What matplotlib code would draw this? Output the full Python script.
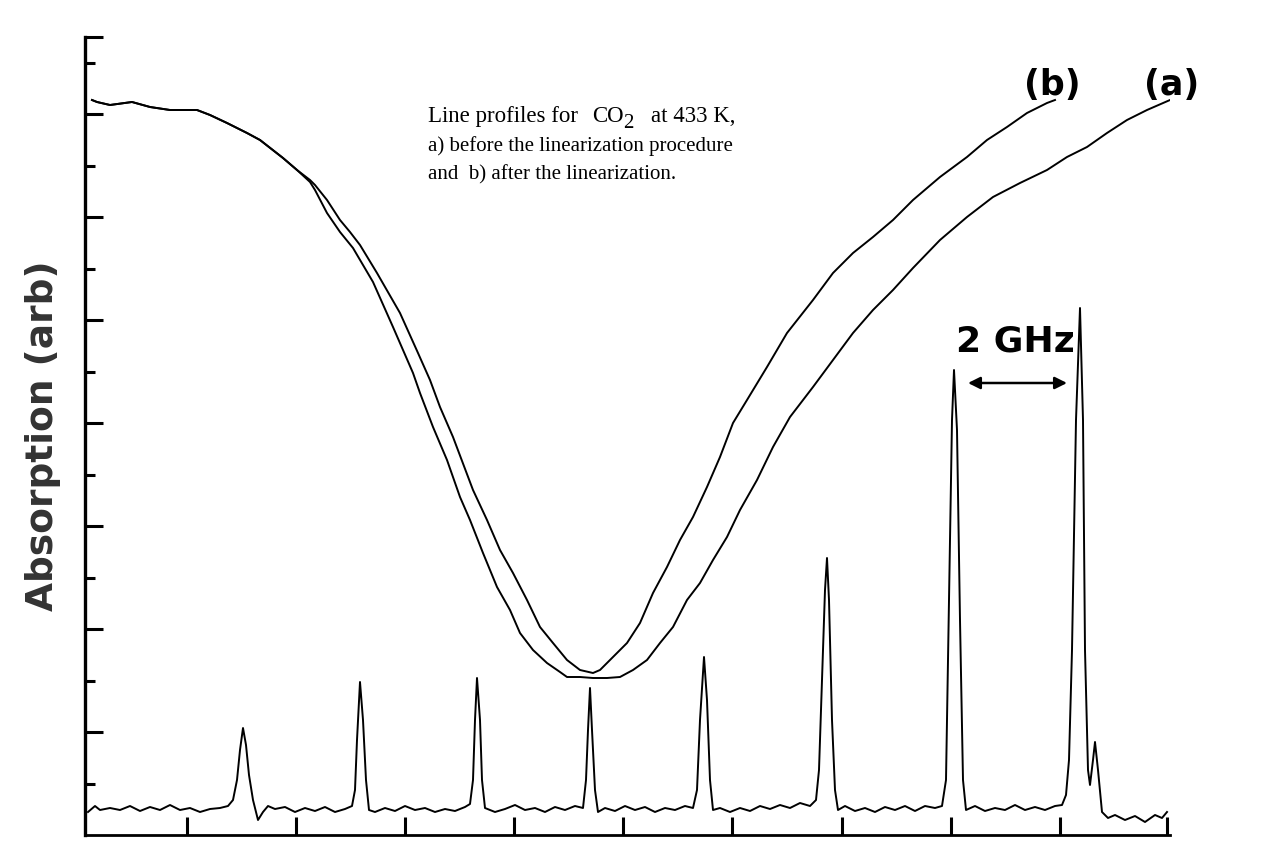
import matplotlib.pyplot as plt

# Perfiles de linea CO2 a 433 K, canal de barrido vs absorcion (u. arb.)
chan_a = [7, 12, 25, 47, 65, 85, 112, 125, 142, 162, 175, 198, 212, 225, 230, 242, 255, 268, 288, 308,
          328, 335, 348, 362, 375, 385, 398, 412, 425, 435, 448, 462, 475, 482, 495, 508, 522, 535, 548, 562,
          575, 588, 602, 615, 628, 642, 655, 672, 688, 705, 728, 748, 768, 788, 808, 828, 855, 882, 908, 935,
          962, 982, 1002, 1022, 1042, 1062, 1085]
abs_a = [735, 733, 730, 733, 728, 725, 725, 720, 712, 702, 695, 677, 665, 653, 645, 622, 603, 587, 553, 508,
         462, 442, 408, 375, 338, 315, 282, 248, 225, 202, 185, 172, 163, 158, 158, 157, 157, 158, 165, 175,
         192, 208, 235, 252, 275, 298, 325, 355, 388, 418, 448, 475, 502, 525, 545, 567, 595, 618, 638, 652,
         665, 678, 688, 702, 715, 725, 735]

chan_b = [7, 12, 25, 47, 65, 85, 112, 125, 142, 162, 175, 198, 212, 225, 230, 242, 255, 265, 275, 292,
          315, 333, 345, 355, 368, 388, 402, 415, 428, 442, 455, 468, 482, 495, 508, 515, 528, 542, 555, 568,
          582, 595, 608, 622, 635, 648, 662, 682, 702, 728, 748, 768, 788, 808, 828, 855, 882, 902, 922, 942,
          962, 970]
abs_b = [735, 733, 730, 733, 728, 725, 725, 720, 712, 702, 695, 677, 665, 655, 650, 635, 615, 603, 590, 562,
         522, 482, 455, 428, 398, 345, 315, 285, 262, 235, 208, 192, 175, 165, 162, 165, 178, 192, 212, 242,
         268, 295, 318, 348, 378, 412, 435, 468, 502, 535, 562, 582, 598, 615, 635, 658, 678, 695, 708, 722,
         732, 735]

# Senal del etalon (picos cada 2 GHz)
chan_fp = [3, 10, 15, 25, 35, 45, 55, 65, 75, 85,
           95, 105, 115, 125, 135, 143, 148, 152, 155, 158,
           161, 164, 168, 173, 178, 183, 190, 200, 210, 220,
           230, 240, 250, 260, 267, 270, 272, 275, 278, 281,
           284, 290, 300, 310, 320, 330, 340, 350, 360, 370,
           380, 385, 388, 390, 392, 395, 397, 400, 410, 420,
           430, 440, 450, 460, 470, 480, 490, 498, 501, 503,
           505, 507, 510, 513, 520, 530, 540, 550, 560, 570,
           580, 590, 600, 608, 612, 615, 619, 622, 625, 628,
           635, 645, 655, 665, 675, 685, 695, 705, 715, 725,
           731, 734, 737, 740, 742, 744, 747, 750, 753, 760,
           770, 780, 790, 800, 810, 820, 830, 840, 850, 857,
           861, 864, 867, 869, 872, 875, 878, 881, 890, 900,
           910, 920, 930, 940, 950, 960, 970, 977, 981, 984,
           987, 991, 995, 998, 1000, 1003, 1005, 1008, 1010, 1013,
           1017, 1023, 1030, 1040, 1050, 1060, 1070, 1077, 1082]
sig_fp = [23, 29, 25, 27, 25, 29, 24, 28, 25, 30,
          25, 27, 23, 26, 27, 29, 35, 55, 85, 107,
          90, 60, 35, 15, 23, 29, 26, 28, 23, 27,
          24, 28, 23, 26, 29, 45, 95, 153, 115, 55,
          25, 23, 27, 24, 29, 25, 27, 23, 26, 24,
          28, 31, 55, 115, 157, 115, 55, 27, 23, 26,
          30, 25, 27, 23, 28, 25, 29, 27, 55, 105,
          147, 105, 45, 23, 27, 24, 29, 25, 28, 23,
          27, 25, 29, 27, 45, 115, 178, 135, 55, 25,
          27, 23, 27, 24, 29, 26, 30, 27, 32, 29,
          35, 65, 155, 245, 277, 235, 115, 45, 25, 29,
          24, 27, 23, 28, 25, 29, 24, 29, 27, 29,
          55, 235, 415, 465, 405, 215, 55, 25, 29, 24,
          27, 25, 30, 25, 28, 25, 29, 30, 40, 75,
          185, 415, 527, 415, 185, 65, 50, 75, 93, 65,
          23, 17, 20, 15, 19, 13, 20, 17, 23]

x_ticks = [102, 211, 320, 429, 538, 647, 757, 866, 975, 1082]
y_major = [103, 206, 309, 412, 515, 618, 721, 798]
y_minor = [51.5, 154.5, 257.5, 360.5, 463.5, 566.5, 669.5, 772.5]

fig = plt.figure(figsize=(12.75, 8.44), dpi=100)
ax = fig.add_axes([85 / 1275, 9 / 844, 1085 / 1275, 798 / 844])

ax.plot(chan_a, abs_a, color='black', lw=1.4)
ax.plot(chan_b, abs_b, color='black', lw=1.4)
ax.plot(chan_fp, sig_fp, color='black', lw=1.4)

ax.set_xlim(0, 1085)
ax.set_ylim(0, 798)

ax.spines['top'].set_visible(False)
ax.spines['right'].set_visible(False)
ax.spines['left'].set_linewidth(2.4)
ax.spines['bottom'].set_linewidth(2.0)

ax.set_xticks(x_ticks)
ax.set_yticks(y_major)
ax.set_yticks(y_minor, minor=True)
ax.tick_params(which='major', direction='in', length=13, width=2.2,
               labelleft=False, labelbottom=False)
ax.tick_params(which='minor', direction='in', length=7, width=2.2)

ax.set_ylabel('Absorption (arb)', fontsize=27, fontweight='bold',
              family='DejaVu Sans', color='#333333', labelpad=14)

# Etiquetas de curvas
ax.text(967, 750, '(b)', fontsize=25, fontweight='bold', ha='center', va='center')
ax.text(1087, 750, '(a)', fontsize=25, fontweight='bold', ha='center', va='center')

# Separacion entre modos del etalon
ax.text(930, 494, '2 GHz', fontsize=26, fontweight='bold', ha='center', va='center')
ax.annotate('', xy=(982, 452), xytext=(883, 452),
            arrowprops=dict(arrowstyle='<|-|>', color='black', lw=1.8,
                            mutation_scale=18, shrinkA=0, shrinkB=0))

# Leyenda descriptiva (primera linea en trozos, con el 2 de CO2 bajado)
txt = dict(family='Liberation Serif', va='baseline', ha='left')
ax.text(343, 713, 'Line profiles for', fontsize=16.5, **txt)
ax.text(507, 713, 'CO', fontsize=16.5, **txt)
ax.text(538, 707, '2', fontsize=15, **txt)
ax.text(566, 713, 'at 433 K,', fontsize=16.5, **txt)
ax.text(343, 684, 'a) before the linearization procedure', fontsize=15, **txt)
ax.text(343, 656, 'and  b) after the linearization.', fontsize=15, **txt)

plt.savefig('out.png', dpi=100)
plt.close()
